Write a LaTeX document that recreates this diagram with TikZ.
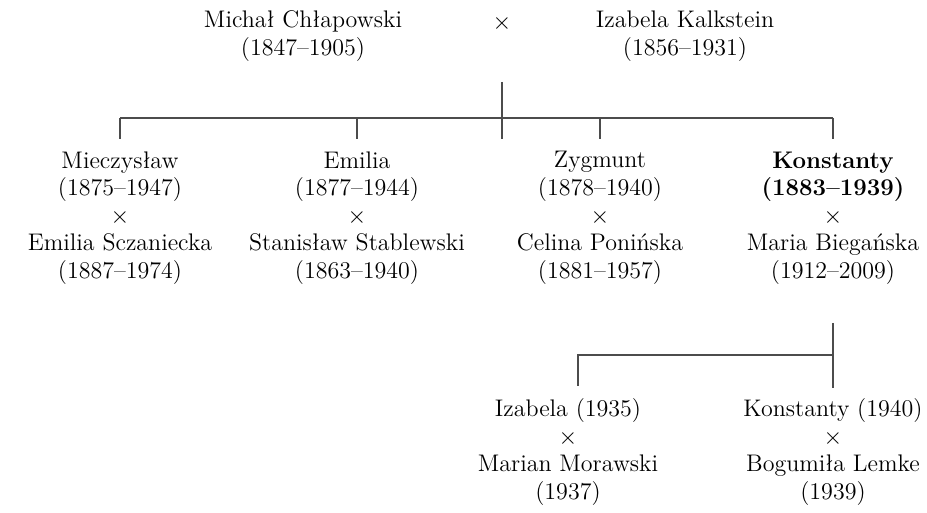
\documentclass[tikz,border=0pt]{standalone}
\begin{document}
\begin{tikzpicture}[x=0.5pt,y=-0.5pt,
    person/.style={align=center,inner sep=0pt,font=\fontsize{12}{13.8}\selectfont},
    kin/.style={-,draw=black!70,line width=0.6pt}]
    %\draw [help lines] (0,0) grid (927,513);
    \useasboundingbox (0,0) rectangle (927,513);
    % parents
    \node[person] (michal) at (303,36) {Michał Chłapowski\\(1847--1905)};
    \node[person] (izabela) at (685,36) {Izabela Kalkstein\\(1856--1931)};
    \node[person] (wed) at (502,24) {$\times$};
    % children
    \node[person] (mieczyslaw) at (120,218) {Mieczysław\\(1875--1947)\\$\times$\\Emilia Sczaniecka\\(1887--1974)};
    \node[person] (emilia) at (357,218) {Emilia\\(1877--1944)\\$\times$\\Stanisław Stablewski\\(1863--1940)};
    \node[person] (zygmunt) at (600,218) {Zygmunt\\(1878--1940)\\$\times$\\Celina Ponińska\\(1881--1957)};
    \node[person] (konstanty) at (833,218) {\textbf{Konstanty}\\\textbf{(1883--1939)}\\$\times$\\Maria Biegańska\\(1912--2009)};
    % grandchildren
    \node[person] (izabela2) at (568,452) {Izabela (1935)\\$\times$\\Marian Morawski\\(1937)};
    \node[person] (konstanty2) at (833,452) {Konstanty (1940)\\$\times$\\Bogumiła Lemke\\(1939)};
    % lines
    \coordinate (top) at (502,82);
    \coordinate (bar) at (502,118);
    \coordinate (bar2) at (700,355);
    \draw[kin] (top) -- ([yshift=6pt]mieczyslaw.north -| top);
    \draw[kin] (mieczyslaw |- bar) -- (konstanty |- bar);
    \foreach \c in {mieczyslaw,emilia,zygmunt,konstanty}
      \draw[kin] (\c |- bar) -- ([yshift=6pt]\c.north);
    \draw[kin] ([yshift=-19pt]konstanty.south) -- ([yshift=5pt]konstanty2.north);
    \draw[kin] (konstanty2 |- bar2) -- ([xshift=5pt]izabela2 |- bar2) -- ([xshift=5pt,yshift=6pt]izabela2.north);
\end{tikzpicture}
\end{document}
